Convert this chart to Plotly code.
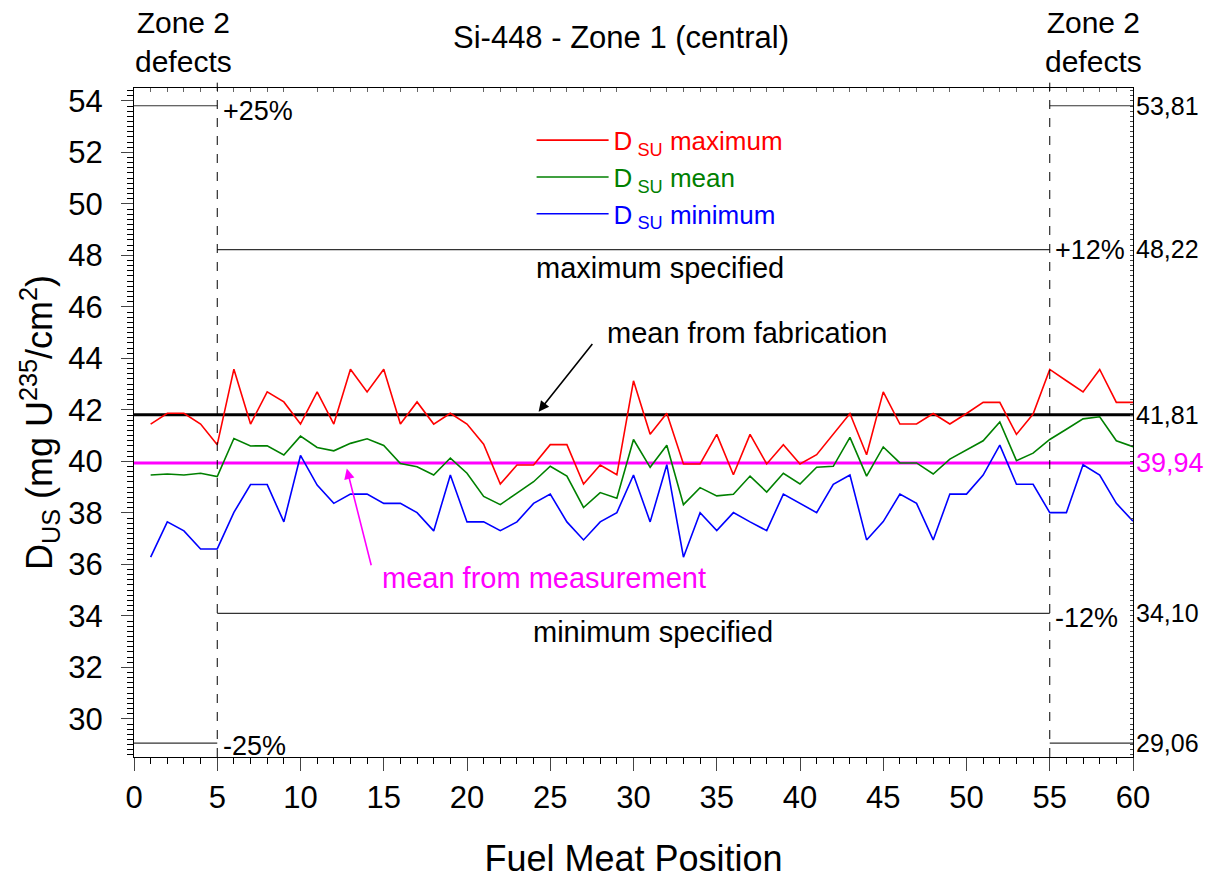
import plotly.graph_objects as go

positions = list(range(1, 61))
d_max = [41.45, 41.87, 41.87, 41.45, 40.65, 43.58, 41.45, 42.70, 42.31, 41.45,
         42.70, 41.45, 43.58, 42.70, 43.58, 41.45, 42.31, 41.45, 41.87, 41.45,
         40.67, 39.12, 39.86, 39.86, 40.65, 40.65, 39.12, 39.86, 39.48, 43.13,
         41.05, 41.87, 39.90, 39.90, 41.05, 39.48, 41.05, 39.90, 40.65, 39.90,
         40.26, 41.06, 41.86, 40.26, 42.70, 41.45, 41.45, 41.86, 41.45, 41.86,
         42.29, 42.29, 41.05, 41.84, 43.57, 43.13, 42.70, 43.57, 42.29, 42.29]
d_mean = [39.47, 39.51, 39.47, 39.54, 39.41, 40.89, 40.60, 40.61, 40.25, 40.98,
          40.54, 40.41, 40.70, 40.88, 40.62, 39.92, 39.79, 39.47, 40.13, 39.54,
          38.64, 38.32, 38.77, 39.21, 39.81, 39.43, 38.21, 38.79, 38.57, 40.85,
          39.77, 40.63, 38.32, 38.98, 38.66, 38.72, 39.43, 38.81, 39.54, 39.12,
          39.77, 39.81, 40.93, 39.43, 40.56, 39.94, 39.94, 39.51, 40.09, 40.44,
          40.80, 41.53, 40.03, 40.32, 40.85, 41.25, 41.65, 41.73, 40.80, 40.57]
d_min = [36.28, 37.65, 37.30, 36.60, 36.60, 38.02, 39.10, 39.10, 37.65, 40.23,
         39.08, 38.37, 38.73, 38.73, 38.37, 38.37, 38.01, 37.30, 39.47, 37.65,
         37.65, 37.31, 37.65, 38.37, 38.73, 37.65, 36.95, 37.65, 38.01, 39.47,
         37.65, 39.87, 36.28, 38.01, 37.31, 38.01, 37.65, 37.31, 38.73, 38.37,
         38.01, 39.11, 39.47, 36.95, 37.66, 38.73, 38.37, 36.95, 38.73, 38.73,
         39.47, 40.63, 39.11, 39.11, 38.01, 38.01, 39.87, 39.47, 38.37, 37.68]

mean_fab = 41.81
mean_meas = 39.94
spec_max = 48.22
spec_min = 34.10
limit_hi = 53.81
limit_lo = 29.06
zone_edges = [5, 55]
x_range = [0, 60]
y_range = [28.52, 54.5]

right_vals = [limit_hi, spec_max, mean_fab, mean_meas, spec_min, limit_lo]
right_text = ["53,81", "48,22", "41,81",
              "<span style='color:#FF00FF;font-size:27px'>39,94</span>",
              "34,10", "29,06"]

FONT = "Liberation Sans, Arial, sans-serif"
fig = go.Figure()

thin = dict(color="#333333", width=1.2)
# Zone 2 limit segments (+/-25%)
for lo, hi in [(x_range[0], zone_edges[0]), (zone_edges[1], x_range[1])]:
    for v in (limit_hi, limit_lo):
        fig.add_trace(go.Scatter(x=[lo, hi], y=[v, v], mode="lines", line=thin,
                                 showlegend=False, hoverinfo="skip"))
# Zone 1 specification segments (+/-12%)
for v in (spec_max, spec_min):
    fig.add_trace(go.Scatter(x=zone_edges, y=[v, v], mode="lines", line=thin,
                             showlegend=False, hoverinfo="skip"))
# mean lines
fig.add_trace(go.Scatter(x=x_range, y=[mean_fab, mean_fab], mode="lines",
                         line=dict(color="black", width=3), showlegend=False, hoverinfo="skip"))
fig.add_trace(go.Scatter(x=x_range, y=[mean_meas, mean_meas], mode="lines",
                         line=dict(color="#FF00FF", width=3), showlegend=False, hoverinfo="skip"))

fig.add_trace(go.Scatter(x=positions, y=d_max, mode="lines", line=dict(color="#FF0000", width=1.6),
                         name="<span style='color:#FF0000'>D<sub> SU</sub> maximum</span>"))
fig.add_trace(go.Scatter(x=positions, y=d_mean, mode="lines", line=dict(color="#008000", width=1.6),
                         name="<span style='color:#008000'>D<sub> SU</sub> mean</span>"))
fig.add_trace(go.Scatter(x=positions, y=d_min, mode="lines", line=dict(color="#0000FF", width=1.6),
                         name="<span style='color:#0000FF'>D<sub> SU</sub> minimum</span>"))

# vertical dashed zone boundaries
for xe in zone_edges:
    fig.add_shape(type="line", xref="x", yref="paper", x0=xe, x1=xe, y0=0, y1=1.008,
                  line=dict(color="black", width=1, dash="dash"))

ann = []
def A(text, x, y, size=24, color="black", xanchor="center", yanchor="middle", xref="x", yref="y", **kw):
    ann.append(dict(text=text, x=x, y=y, xref=xref, yref=yref, showarrow=False,
                    font=dict(family=FONT, size=size, color=color),
                    xanchor=xanchor, yanchor=yanchor, **kw))

A("+25%", 5.2, limit_hi - 0.2, size=27, xanchor="left")
A("-25%", 5.2, limit_lo - 0.1, size=27, xanchor="left")
A("+12%", 55.2, spec_max, size=27, xanchor="left")
A("-12%", 55.2, spec_min - 0.2, size=27, xanchor="left")
A("maximum specified", 31.6, 47.5, size=29)
A("minimum specified", 31.2, 33.38, size=29)
A("mean from fabrication", 36.8, 44.97, size=29)
A("mean from measurement", 24.6, 35.47, size=29, color="#FF00FF")
A("Si-448 - Zone 1 (central)", 0.487, 1.076, size=31, xref="paper", yref="paper")
A("Zone 2<br>defects", 3.0, 1.069, size=30, xref="x", yref="paper")
A("Zone 2<br>defects", 57.6, 1.069, size=30, xref="x", yref="paper")

ann.append(dict(x=24.3, y=41.93, ax=27.6, ay=44.62, xref="x", yref="y", axref="x", ayref="y",
                showarrow=True, arrowhead=2, arrowsize=1.3, arrowwidth=1.6, arrowcolor="black", text=""))
ann.append(dict(x=12.78, y=39.72, ax=14.27, ay=35.91, xref="x", yref="y", axref="x", ayref="y",
                showarrow=True, arrowhead=2, arrowsize=1.3, arrowwidth=1.6, arrowcolor="#FF00FF", text=""))

fig.update_layout(
    width=1212, height=871,
    margin=dict(l=126, r=87, t=80, b=122, autoexpand=False),
    paper_bgcolor="white", plot_bgcolor="white",
    font=dict(family=FONT, color="black"),
    annotations=ann,
    legend=dict(x=0.398, y=0.957, xanchor="left", yanchor="top", bgcolor="rgba(0,0,0,0)",
                font=dict(family=FONT, size=26), tracegroupgap=0, itemwidth=72),
    xaxis=dict(range=x_range, dtick=5, tick0=0, ticks="outside", ticklen=13, tickwidth=1,
               showline=True, linecolor="black", linewidth=1, mirror=True, showgrid=False,
               zeroline=False, tickfont=dict(size=31, family=FONT),
               minor=dict(dtick=1, ticks="outside", ticklen=6, tickcolor="black"),
               title=dict(text="Fuel Meat Position", font=dict(size=36, family=FONT), standoff=40)),
    yaxis=dict(range=y_range, dtick=2, tick0=0, ticks="outside", ticklen=12, tickwidth=1,
               showline=True, linecolor="black", linewidth=1, mirror=True, showgrid=False,
               zeroline=False, tickfont=dict(size=31, family=FONT), ticklabelstandoff=12,
               minor=dict(dtick=0.2, ticks="outside", ticklen=6, tickcolor="black"),
               title=dict(text="D<sub>US</sub> (mg U<sup>235</sup>/cm<sup>2</sup>)",
                          font=dict(size=36, family=FONT), standoff=4)),
    yaxis2=dict(range=y_range, overlaying="y", side="right", tickvals=right_vals, ticktext=right_text,
                ticks="", showgrid=False, zeroline=False, showline=False,
                tickfont=dict(size=25, family=FONT, color="black"), ticklabelstandoff=2,
                minor=dict(dtick=0.2, ticks="inside", ticklen=3, tickcolor="#444")),
    xaxis2=dict(range=x_range, overlaying="x", side="top", showticklabels=False, ticks="",
                showgrid=False, zeroline=False, showline=False,
                minor=dict(dtick=1, ticks="inside", ticklen=4, tickcolor="#666")),
)
fig.add_trace(go.Scatter(x=[None], y=[None], xaxis="x2", yaxis="y2", showlegend=False, hoverinfo="skip"))

fig.write_html("out.html")
